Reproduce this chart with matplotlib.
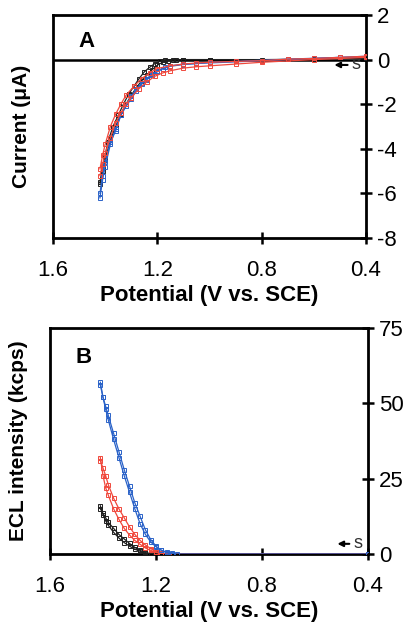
import matplotlib.pyplot as plt

plt.rcParams['font.family'] = ['Liberation Sans', 'DejaVu Sans']

# --- Panel A: current vs potential (forward / return branches) ---
eA_blk_f = [0.40, 0.60, 0.80, 1.00, 1.10, 1.14, 1.17, 1.19, 1.21, 1.23, 1.25, 1.27, 1.29, 1.31,
            1.33, 1.35, 1.37, 1.39, 1.40, 1.41, 1.42]
iA_blk_f = [0.05, 0.02, 0.00, 0.00, 0.00, 0.00, -0.02, -0.08, -0.18, -0.35, -0.55, -0.85, -1.20, -1.55,
            -2.00, -2.50, -3.00, -3.70, -4.30, -4.80, -5.50]
eA_blk_r = [1.42, 1.41, 1.40, 1.38, 1.36, 1.34, 1.32, 1.30, 1.28, 1.26, 1.24, 1.22, 1.20, 1.18,
            1.16, 1.13, 1.10, 1.00]
iA_blk_r = [-5.60, -5.00, -4.50, -3.60, -3.00, -2.45, -2.00, -1.60, -1.25, -0.95, -0.70, -0.45, -0.25, -0.12,
            -0.05, 0.00, 0.00, 0.00]

eA_red_f = [0.40, 0.50, 0.60, 0.70, 0.80, 0.90, 1.00, 1.05, 1.10, 1.15, 1.20, 1.23, 1.26, 1.29,
            1.32, 1.34, 1.36, 1.38, 1.40, 1.41, 1.42]
iA_red_f = [0.15, 0.10, 0.05, 0.02, -0.05, -0.08, -0.12, -0.15, -0.20, -0.28, -0.40, -0.60, -0.85, -1.20,
            -1.60, -2.00, -2.45, -3.00, -3.80, -4.30, -4.90]
eA_red_r = [1.42, 1.41, 1.40, 1.38, 1.36, 1.34, 1.32, 1.30, 1.27, 1.24, 1.21, 1.18, 1.15, 1.10,
            1.05, 1.00, 0.90, 0.80, 0.60, 0.40]
iA_red_r = [-5.20, -4.70, -4.20, -3.50, -2.85, -2.40, -2.00, -1.70, -1.30, -1.00, -0.75, -0.60, -0.50, -0.38,
            -0.32, -0.28, -0.20, -0.12, 0.00, 0.10]

eA_blu_f = [0.40, 0.50, 0.70, 0.90, 1.00, 1.05, 1.10, 1.15, 1.18, 1.20, 1.22, 1.24, 1.26, 1.28,
            1.30, 1.32, 1.34, 1.36, 1.38, 1.40, 1.41, 1.42]
iA_blu_f = [0.10, 0.10, 0.02, -0.08, -0.12, -0.18, -0.22, -0.30, -0.42, -0.55, -0.70, -0.90, -1.10, -1.40,
            -1.75, -2.10, -2.50, -3.10, -3.80, -4.80, -5.40, -6.20]
eA_blu_r = [1.42, 1.41, 1.40, 1.38, 1.36, 1.34, 1.32, 1.30, 1.28, 1.26, 1.24, 1.22, 1.20, 1.17,
            1.15, 1.10, 1.00, 0.80, 0.60, 0.40]
iA_blu_r = [-6.00, -5.20, -4.60, -3.70, -3.20, -2.50, -2.00, -1.65, -1.30, -1.05, -0.85, -0.65, -0.50, -0.35,
            -0.28, -0.20, -0.15, -0.05, 0.05, 0.15]

# --- Panel B: ECL intensity vs potential ---
eB_blk_f = [0.40, 1.20, 1.24, 1.26, 1.28, 1.30, 1.32, 1.34, 1.36, 1.38, 1.39, 1.40, 1.41]
iB_blk_f = [0.0, 0.0, 0.3, 0.9, 1.6, 2.6, 3.8, 5.3, 7.2, 9.5, 11.0, 13.0, 16.0]
eB_blk_r = [1.41, 1.40, 1.39, 1.38, 1.36, 1.34, 1.32, 1.30, 1.28, 1.26, 1.24, 1.22]
iB_blk_r = [15.0, 13.5, 12.0, 10.5, 8.5, 6.5, 5.0, 3.5, 2.2, 1.2, 0.5, 0.0]

eB_red_f = [0.40, 1.15, 1.18, 1.20, 1.22, 1.24, 1.26, 1.28, 1.30, 1.32, 1.34, 1.36, 1.38,
            1.39, 1.40, 1.41]
iB_red_f = [0.0, 0.0, 0.2, 0.5, 1.2, 2.0, 3.2, 4.5, 6.3, 8.5, 11.5, 15.0, 19.5,
            22.0, 26.0, 32.0]
eB_red_r = [1.41, 1.40, 1.39, 1.38, 1.36, 1.34, 1.32, 1.30, 1.28, 1.26, 1.24, 1.22, 1.20, 1.18, 1.16]
iB_red_r = [31.0, 28.5, 26.0, 23.0, 18.5, 15.0, 12.0, 9.0, 6.5, 4.5, 3.0, 1.8, 0.8, 0.2, 0.0]

eB_blu_f = [0.40, 1.12, 1.14, 1.16, 1.18, 1.20, 1.22, 1.24, 1.26, 1.28, 1.30, 1.32, 1.34,
            1.36, 1.38, 1.39, 1.40, 1.41]
iB_blu_f = [0.0, 0.0, 0.2, 0.6, 1.3, 2.4, 4.0, 6.5, 10.0, 15.0, 20.5, 26.0, 32.0,
            38.0, 44.5, 48.0, 52.0, 57.0]
eB_blu_r = [1.41, 1.40, 1.39, 1.38, 1.36, 1.34, 1.32, 1.30, 1.28, 1.26, 1.24, 1.22, 1.20, 1.18,
            1.16, 1.14]
iB_blu_r = [56.0, 52.0, 49.0, 46.0, 40.0, 34.0, 28.0, 22.5, 17.0, 12.5, 8.0, 4.8, 2.6, 1.2,
            0.4, 0.0]

xticks = [1.6, 1.2, 0.8, 0.4]
xtick_labels = ['1.6', '1.2', '0.8', '0.4']
yticksA = [2, 0, -2, -4, -6, -8]
yticksB = [0, 25, 50, 75]

BLACK = '#202020'
RED = '#f0483c'
BLUE = '#2a62c8'

fig = plt.figure(figsize=(4.13, 6.27), dpi=100)
axA = fig.add_axes([53 / 413, 1 - 238 / 627, 313 / 413, 223 / 627])
axB = fig.add_axes([50 / 413, 1 - 554 / 627, 318 / 413, 226 / 627])


def draw_series(ax, e, i, color):
    ax.plot(e, i, color=color, lw=0.9, marker='s', ms=2.2, mfc='none',
            mew=0.7, zorder=3)


for ax in (axA, axB):
    ax.set_xlim(1.6, 0.4)
    ax.set_xticks(xticks)
    ax.set_xticklabels(xtick_labels)
    ax.yaxis.tick_right()
    ax.tick_params(axis='both', direction='inout', length=8, width=1.8,
                   labelsize=16)
    ax.tick_params(axis='x', pad=12)
    ax.tick_params(axis='y', pad=4)
    for sp in ax.spines.values():
        sp.set_linewidth(2.0)
    ax.set_xlabel('Potential (V vs. SCE)', fontsize=16, fontweight='bold',
                  labelpad=3)
    ax.yaxis.set_label_position('left')

# Panel A
axA.set_ylim(-8, 2)
axA.set_yticks(yticksA)
axA.set_yticklabels([str(v) for v in yticksA])
axA.axhline(0, color='black', lw=1.8, zorder=2)
draw_series(axA, eA_blk_f, iA_blk_f, BLACK)
draw_series(axA, eA_blk_r, iA_blk_r, BLACK)
draw_series(axA, eA_blu_f, iA_blu_f, BLUE)
draw_series(axA, eA_blu_r, iA_blu_r, BLUE)
draw_series(axA, eA_red_f, iA_red_f, RED)
draw_series(axA, eA_red_r, iA_red_r, RED)
axA.set_ylabel('Current (\u03bcA)', fontsize=15, fontweight='bold')
axA.yaxis.set_label_coords(-0.07, 0.5)
axA.text(0.08, 0.88, 'A', transform=axA.transAxes, fontsize=16,
         fontweight='bold', va='center')
axA.annotate('', xy=(0.89, 0.776), xytext=(0.95, 0.776),
             xycoords='axes fraction',
             arrowprops=dict(arrowstyle='-|>', color='black', lw=1.5,
                             mutation_scale=8))
axA.text(0.955, 0.776, 's', transform=axA.transAxes, fontsize=13,
         va='center', color='#303030')

# Panel B
axB.set_ylim(0, 75)
axB.set_yticks(yticksB)
axB.set_yticklabels([str(v) for v in yticksB])
draw_series(axB, eB_blk_f, iB_blk_f, BLACK)
draw_series(axB, eB_blk_r, iB_blk_r, BLACK)
draw_series(axB, eB_red_f, iB_red_f, RED)
draw_series(axB, eB_red_r, iB_red_r, RED)
draw_series(axB, eB_blu_f, iB_blu_f, BLUE)
draw_series(axB, eB_blu_r, iB_blu_r, BLUE)
axB.set_ylabel('ECL intensity (kcps)', fontsize=15, fontweight='bold')
axB.yaxis.set_label_coords(-0.068, 0.5)
axB.text(0.08, 0.87, 'B', transform=axB.transAxes, fontsize=16,
         fontweight='bold', va='center')
axB.annotate('', xy=(0.895, 0.045), xytext=(0.95, 0.045),
             xycoords='axes fraction',
             arrowprops=dict(arrowstyle='-|>', color='black', lw=1.5,
                             mutation_scale=8))
axB.text(0.955, 0.045, 's', transform=axB.transAxes, fontsize=13,
         va='center', color='#303030')

fig.savefig('out.png', dpi=100)
